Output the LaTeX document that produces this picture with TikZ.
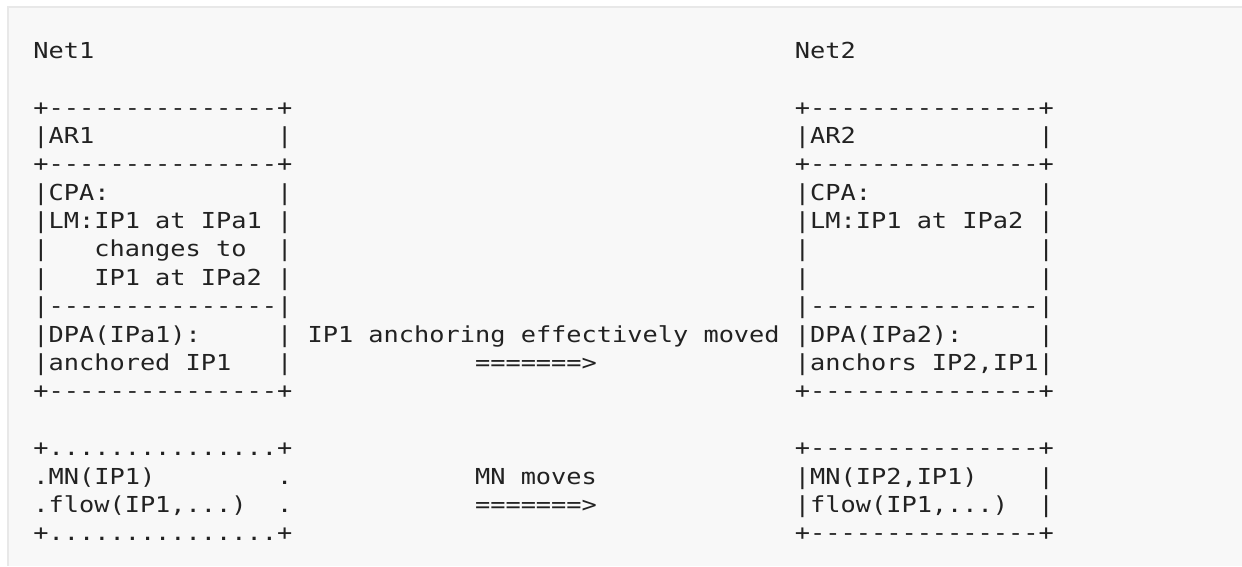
\documentclass[tikz,border=0pt]{standalone}
\usepackage{fontspec}
\setmonofont[FakeStretch=1.15]{DejaVu Sans Mono}
\definecolor{panelbg}{HTML}{F8F8F8}
\definecolor{panelrule}{HTML}{E8E8E8}
\definecolor{ink}{HTML}{222222}
\tikzset{
  ascii/.style={anchor=base west, inner sep=0pt, outer sep=0pt, text=ink,
    font=\ttfamily\fontsize{22}{26}\selectfont},
}
\newcommand\asc[4]{\node[ascii] (#1) at ({33.4+15.23*#2},{58.3+28.38*#3}) {#4};}
\begin{document}
\begin{tikzpicture}[x=1pt,y=-1pt]
\useasboundingbox (0,0) rectangle (1242,566);
\fill[white] (0,0) rectangle (1242,566);
\fill[panelbg] (8,7) rectangle (1242,566);
\draw[panelrule,line width=1.8pt] (8,566) -- (8,6.6) -- (1242,6.6);
% headings
\asc{net1}{0}{0}{Net1}
\asc{net2}{50}{0}{Net2}
% AR boxes
\asc{ar1top}{0}{2}{+---------------+}
\asc{ar2top}{50}{2}{+---------------+}
\asc{ar1}{0}{3}{|AR1}
\asc{ar1r}{16}{3}{|}
\asc{ar2}{50}{3}{|AR2}
\asc{ar2r}{66}{3}{|}
\asc{ar1mid}{0}{4}{+---------------+}
\asc{ar2mid}{50}{4}{+---------------+}
\asc{cpa1}{0}{5}{|CPA:}
\asc{cpa1r}{16}{5}{|}
\asc{cpa2}{50}{5}{|CPA:}
\asc{cpa2r}{66}{5}{|}
\asc{lm1}{0}{6}{|LM:IP1 at IPa1}
\asc{lm1r}{16}{6}{|}
\asc{lm2}{50}{6}{|LM:IP1 at IPa2}
\asc{lm2r}{66}{6}{|}
\asc{ch1l}{0}{7}{|}
\asc{ch1}{4}{7}{changes to}
\asc{ch1r}{16}{7}{|}
\asc{ch2l}{50}{7}{|}
\asc{ch2r}{66}{7}{|}
\asc{ip1l}{0}{8}{|}
\asc{ip1}{4}{8}{IP1 at IPa2}
\asc{ip1r}{16}{8}{|}
\asc{ip2l}{50}{8}{|}
\asc{ip2r}{66}{8}{|}
\asc{sep1}{0}{9}{|---------------|}
\asc{sep2}{50}{9}{|---------------|}
\asc{dpa1}{0}{10}{|DPA(IPa1):}
\asc{dpa1r}{16}{10}{|}
\asc{moved}{18}{10}{IP1 anchoring effectively moved}
\asc{dpa2}{50}{10}{|DPA(IPa2):}
\asc{dpa2r}{66}{10}{|}
\asc{anc1}{0}{11}{|anchored IP1}
\asc{anc1r}{16}{11}{|}
\asc{arrow1}{29}{11}{=======>}
\asc{anc2}{50}{11}{|anchors IP2,IP1|}
\asc{bot1}{0}{12}{+---------------+}
\asc{bot2}{50}{12}{+---------------+}
% MN boxes
\asc{mn1top}{0}{14}{+...............+}
\asc{mn2top}{50}{14}{+---------------+}
\asc{mn1}{0}{15}{.MN(IP1)}
\asc{mn1r}{16}{15}{.}
\asc{mnmoves}{29}{15}{MN moves}
\asc{mn2}{50}{15}{|MN(IP2,IP1)}
\asc{mn2r}{66}{15}{|}
\asc{fl1}{0}{16}{.flow(IP1,...)}
\asc{fl1r}{16}{16}{.}
\asc{arrow2}{29}{16}{=======>}
\asc{fl2}{50}{16}{|flow(IP1,...)}
\asc{fl2r}{66}{16}{|}
\asc{mn1bot}{0}{17}{+...............+}
\asc{mn2bot}{50}{17}{+---------------+}
\end{tikzpicture}
\end{document}
